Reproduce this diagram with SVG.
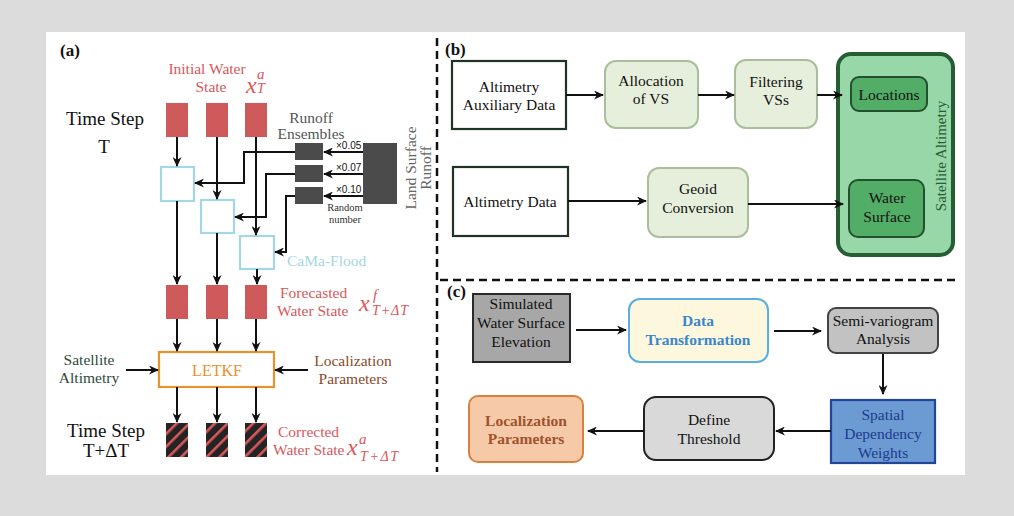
<svg xmlns="http://www.w3.org/2000/svg" width="1014" height="516" viewBox="0 0 1014 516">
<style>
text{font-family:"Liberation Serif","Times New Roman",serif;font-size:15.5px;fill:#111}
.c{text-anchor:middle}
.b{font-weight:bold}
.red{fill:#d9585a}
.math{font-family:"Liberation Serif","Times New Roman",serif;font-style:italic;fill:#d9585a}
.arr{fill:none;stroke:#111;stroke-width:2;marker-end:url(#ah)}
.rr{fill:#cf5a5b}
.cy{fill:#fff;stroke:#a3d7e3;stroke-width:2.2}
.dg{fill:#4b4b4b}
.hb{fill:url(#hatch)}
.dash{fill:none;stroke:#111;stroke-width:2.5;stroke-dasharray:8 5}
.gbox{fill:#e6efdc;stroke:#a9bf9b;stroke-width:2}
.wbox{fill:#fff;stroke:#1e3526;stroke-width:2.2}
</style>
<defs>
<marker id="ah" markerUnits="userSpaceOnUse" markerWidth="10" markerHeight="9" refX="9" refY="4.5" orient="auto">
<path d="M0,0 L10,4.5 L0,9 L3,4.5 z" fill="#111"/>
</marker>
<pattern id="hatch" patternUnits="userSpaceOnUse" width="9" height="9" patternTransform="rotate(45)">
<rect width="9" height="9" fill="#242424"/>
<rect width="2.6" height="9" fill="#d9585a"/>
</pattern>
</defs>
<rect width="1014" height="516" fill="#dcdcdc"/>
<rect x="46" y="32" width="919" height="443" fill="#fff"/>

<g id="dividers">
<line class="dash" x1="437" y1="38" x2="437" y2="472"/>
<line class="dash" x1="440" y1="280" x2="958" y2="280"/>
</g>

<!-- Panel (a) -->
<g id="panel-a-labels">
<text x="60" y="56" class="b" style="font-size:17px">(a)</text>
<text x="66" y="125" style="font-size:19px">Time Step</text>
<text x="104" y="153" class="c" style="font-size:19px">T</text>
<text x="67" y="437" style="font-size:19px">Time Step</text>
<text x="106" y="457" class="c" style="font-size:19px">T+ΔT</text>
</g>

<g id="initial-state">
<text x="207" y="74" class="c red">Initial Water</text>
<text x="211" y="92" class="c red">State</text>
<text x="246" y="93" class="math" style="font-size:24px">x</text>
<text x="257" y="79" class="math" style="font-size:15px">a</text>
<text x="257" y="93" class="math" style="font-size:14px">T</text>
<rect class="rr" x="166" y="103" width="22" height="34"/>
<rect class="rr" x="206" y="103" width="22" height="34"/>
<rect class="rr" x="245" y="103" width="22" height="34"/>
</g>

<g id="runoff-ensembles">
<text x="311" y="123" class="c" style="fill:#555">Runoff</text>
<text x="311" y="139" class="c" style="fill:#555">Ensembles</text>
<rect class="dg" x="295" y="143" width="28" height="17"/>
<rect class="dg" x="295" y="165" width="28" height="17"/>
<rect class="dg" x="295" y="187" width="28" height="17"/>
<text x="336" y="149" style="font-family:'Liberation Sans',Arial,sans-serif;font-size:10px">×0.05</text>
<text x="336" y="171" style="font-family:'Liberation Sans',Arial,sans-serif;font-size:10px">×0.07</text>
<text x="336" y="193" style="font-family:'Liberation Sans',Arial,sans-serif;font-size:10px">×0.10</text>
<text x="345" y="211" class="c" style="font-size:10.5px;fill:#333">Random</text>
<text x="345" y="223" class="c" style="font-size:10.5px;fill:#333">number</text>
</g>

<g id="land-surface-runoff">
<rect class="dg" x="363" y="143" width="34" height="61"/>
<text transform="translate(416,168) rotate(-90)" class="c" style="fill:#666">Land Surface</text>
<text transform="translate(431,168) rotate(-90)" class="c" style="fill:#666">Runoff</text>
</g>

<g id="cama-flood">
<rect class="cy" x="161" y="167" width="33" height="34"/>
<rect class="cy" x="201" y="200" width="33" height="33"/>
<rect class="cy" x="240" y="236" width="34" height="33"/>
<text x="287" y="266" style="fill:#a3d7e3">CaMa-Flood</text>
</g>

<g id="forecast-state">
<rect class="rr" x="166" y="285" width="22" height="34"/>
<rect class="rr" x="206" y="285" width="22" height="34"/>
<rect class="rr" x="245" y="285" width="22" height="34"/>
<text x="280" y="298" class="red">Forecasted</text>
<text x="277" y="316" class="red">Water State</text>
<text x="359" y="311" class="math" style="font-size:24px">x</text>
<text x="373" y="300" class="math" style="font-size:15px">f</text>
<text x="372" y="315" class="math" style="font-size:14px" textLength="36" lengthAdjust="spacing">T+ΔT</text>
</g>

<g id="letkf">
<rect x="159" y="352" width="115" height="35" fill="#fff" stroke="#e8922e" stroke-width="2.2"/>
<text x="217" y="376" class="c" style="fill:#e8922e;font-size:16px">LETKF</text>
<text x="89" y="365" class="c" style="fill:#2e4a3a">Satellite</text>
<text x="89" y="383" class="c" style="fill:#2e4a3a">Altimetry</text>
<text x="353" y="366" class="c" style="fill:#8a4a2a">Localization</text>
<text x="353" y="384" class="c" style="fill:#8a4a2a">Parameters</text>
</g>

<g id="corrected-state">
<rect class="hb" x="166" y="423" width="22" height="34"/>
<rect class="hb" x="206" y="423" width="22" height="34"/>
<rect class="hb" x="245" y="423" width="22" height="34"/>
<text x="278" y="437" class="red">Corrected</text>
<text x="273" y="455" class="red">Water State</text>
<text x="347" y="455" class="math" style="font-size:24px">x</text>
<text x="359" y="444" class="math" style="font-size:15px">a</text>
<text x="360" y="461" class="math" style="font-size:14px" textLength="38" lengthAdjust="spacing">T+ΔT</text>
</g>

<g id="connectors-a">
<line class="arr" x1="177" y1="137" x2="177" y2="166"/>
<line class="arr" x1="217" y1="137" x2="217" y2="199"/>
<line class="arr" x1="256" y1="137" x2="256" y2="235"/>
<path class="arr" d="M295,152 H244 V183 H195"/>
<path class="arr" d="M295,174 H266 V217 H235"/>
<path class="arr" d="M295,196 H286 V252 H275"/>
<line class="arr" x1="363" y1="152" x2="324" y2="152"/>
<line class="arr" x1="363" y1="174" x2="324" y2="174"/>
<line class="arr" x1="363" y1="196" x2="324" y2="196"/>
<line class="arr" x1="177" y1="201" x2="177" y2="284"/>
<line class="arr" x1="217" y1="233" x2="217" y2="284"/>
<line class="arr" x1="257" y1="269" x2="257" y2="284"/>
<line class="arr" x1="177" y1="319" x2="177" y2="351"/>
<line class="arr" x1="217" y1="319" x2="217" y2="351"/>
<line class="arr" x1="256" y1="319" x2="256" y2="351"/>
<line class="arr" x1="126" y1="370" x2="158" y2="370"/>
<line class="arr" x1="308" y1="370" x2="275" y2="370"/>
<line class="arr" x1="177" y1="387" x2="177" y2="422"/>
<line class="arr" x1="217" y1="387" x2="217" y2="422"/>
<line class="arr" x1="256" y1="387" x2="256" y2="422"/>
</g>

<!-- Panel (b) -->
<text x="445" y="55" class="b" style="font-size:17px">(b)</text>
<g id="aux-data">
<rect class="wbox" x="452" y="61" width="114" height="68"/>
<text x="509" y="92" class="c">Altimetry</text>
<text x="509" y="110" class="c">Auxiliary Data</text>
</g>
<g id="allocation">
<rect class="gbox" x="605" y="61" width="93" height="67" rx="11"/>
<text x="651" y="86" class="c">Allocation</text>
<text x="651" y="104" class="c">of VS</text>
</g>
<g id="filtering">
<rect class="gbox" x="735" y="60" width="82" height="68" rx="11"/>
<text x="776" y="87" class="c">Filtering</text>
<text x="776" y="105" class="c">VSs</text>
</g>
<g id="satellite-altimetry">
<rect x="838" y="54" width="115" height="201" rx="13" fill="#97d7a8" stroke="#245e32" stroke-width="4"/>
<text transform="translate(946,156) rotate(-90)" class="c" style="fill:#245e32;font-size:15px">Satellite Altimetry</text>
</g>
<g id="locations">
<rect x="851" y="77" width="76" height="34" rx="8" fill="#52ad66" stroke="#24502e" stroke-width="2"/>
<text x="889" y="100" class="c">Locations</text>
</g>
<g id="water-surface">
<rect x="849" y="180" width="75" height="57" rx="9" fill="#52ad66" stroke="#24502e" stroke-width="2"/>
<text x="887" y="203" class="c">Water</text>
<text x="887" y="222" class="c">Surface</text>
</g>
<g id="altimetry-data">
<rect class="wbox" x="453" y="167" width="115" height="69"/>
<text x="510" y="207" class="c">Altimetry Data</text>
</g>
<g id="geoid">
<rect class="gbox" x="648" y="168" width="100" height="69" rx="11"/>
<text x="698" y="194" class="c">Geoid</text>
<text x="698" y="213" class="c">Conversion</text>
</g>
<g id="connectors-b">
<line class="arr" x1="566" y1="95" x2="603" y2="95"/>
<line class="arr" x1="698" y1="95" x2="734" y2="95"/>
<line class="arr" x1="817" y1="95" x2="842" y2="95"/>
<line class="arr" x1="568" y1="201" x2="646" y2="201"/>
<line class="arr" x1="748" y1="204" x2="843" y2="204"/>
</g>

<!-- Panel (c) -->
<text x="447" y="297" class="b" style="font-size:17px">(c)</text>
<g id="simulated">
<rect x="473" y="294" width="97" height="68" fill="#a7a7a7" stroke="#2a2a2a" stroke-width="2"/>
<text x="521" y="309" class="c">Simulated</text>
<text x="521" y="328" class="c">Water Surface</text>
<text x="521" y="347" class="c">Elevation</text>
</g>
<g id="data-transformation">
<rect x="629" y="299" width="139" height="63" rx="11" fill="#fdf8dd" stroke="#5aaee2" stroke-width="2"/>
<text x="698" y="326" class="c b" style="fill:#3a86cc">Data</text>
<text x="698" y="345" class="c b" style="fill:#3a86cc">Transformation</text>
</g>
<g id="semi-variogram">
<rect x="828" y="308" width="110" height="45" rx="8" fill="#c2c2c2" stroke="#444" stroke-width="2"/>
<text x="883" y="326" class="c">Semi-variogram</text>
<text x="883" y="344" class="c">Analysis</text>
</g>
<g id="spatial-weights">
<rect x="831" y="400" width="104" height="63" fill="#6c9bd3" stroke="#22449a" stroke-width="2.2"/>
<text x="883" y="420" class="c" style="fill:#1c3a8c">Spatial</text>
<text x="883" y="439" class="c" style="fill:#1c3a8c">Dependency</text>
<text x="883" y="458" class="c" style="fill:#1c3a8c">Weights</text>
</g>
<g id="define-threshold">
<rect x="644" y="397" width="130" height="63" rx="12" fill="#d9d9d9" stroke="#222" stroke-width="2"/>
<text x="709" y="425" class="c">Define</text>
<text x="709" y="444" class="c">Threshold</text>
</g>
<g id="localization-parameters">
<rect x="469" y="396" width="114" height="66" rx="9" fill="#f6caa9" stroke="#d9803f" stroke-width="2"/>
<text x="526" y="426" class="c b" style="fill:#a0522d">Localization</text>
<text x="526" y="444" class="c b" style="fill:#a0522d">Parameters</text>
</g>
<g id="connectors-c">
<line class="arr" x1="576" y1="330" x2="626" y2="330"/>
<line class="arr" x1="774" y1="331" x2="821" y2="331"/>
<line class="arr" x1="883" y1="354" x2="883" y2="394"/>
<line class="arr" x1="831" y1="431" x2="776" y2="431"/>
<line class="arr" x1="644" y1="431" x2="588" y2="431"/>
</g>
</svg>
